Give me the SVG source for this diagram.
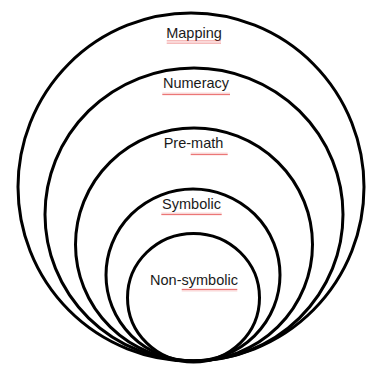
<svg xmlns="http://www.w3.org/2000/svg" width="367" height="365" viewBox="0 0 367 365">
<style>
.ring{fill:none;stroke:#000;stroke-width:3}
.lbl{font-family:"Liberation Sans",Arial,sans-serif;font-size:14.5px;fill:#1a1a1a;text-anchor:middle}
.sq{fill:url(#squiggle)}
</style>
<defs>
<pattern id="squiggle" patternUnits="userSpaceOnUse" x="0" y="0" width="4" height="3">
<path d="M0,2.3 L1,0.7 L2,2.3 L3,0.7 L4,2.3 M-1,0.7 L0,2.3 M4,2.3 L5,0.7" fill="none" stroke="#e23a3a" stroke-width="0.7"/>
</pattern>
</defs>
<rect width="367" height="365" fill="#fff"/>
<g id="mapping">
<ellipse class="ring" cx="191" cy="187" rx="173" ry="174"/>
<text class="lbl" x="194" y="38.3">Mapping</text>
<rect class="sq" x="166.7" y="40.5" width="54.3" height="3"/>
</g>
<g id="numeracy">
<ellipse class="ring" cx="194" cy="214.5" rx="149" ry="146.5"/>
<text class="lbl" x="196" y="88.3">Numeracy</text>
<rect class="sq" x="162.3" y="92.5" width="67.7" height="3"/>
</g>
<g id="pre-math">
<ellipse class="ring" cx="194" cy="244.5" rx="118.5" ry="116.5"/>
<text class="lbl" x="193.5" y="148.3">Pre-math</text>
<rect class="sq" x="190.7" y="152.5" width="37" height="3"/>
</g>
<g id="symbolic">
<ellipse class="ring" cx="193" cy="275" rx="87" ry="86"/>
<text class="lbl" x="191.5" y="209.3">Symbolic</text>
<rect class="sq" x="161.3" y="212.5" width="60.4" height="3"/>
</g>
<g id="non-symbolic">
<ellipse class="ring" cx="193.5" cy="297.7" rx="66" ry="64.3"/>
<text class="lbl" x="194" y="285">Non-symbolic</text>
<rect class="sq" x="181.7" y="288.5" width="55.6" height="3"/>
</g>
</svg>
